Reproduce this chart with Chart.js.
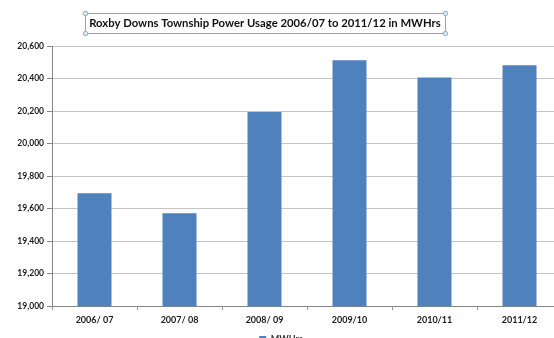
<!DOCTYPE html>
<html>
<head>
<meta charset="utf-8">
<script src="https://cdn.jsdelivr.net/npm/chart.js@4/dist/chart.umd.min.js"></script>
<style>
  html, body { margin: 0; padding: 0; background: #fff; overflow: hidden; }
  #wrap { position: absolute; left: 0; top: 0; width: 566px; height: 354px; }
</style>
</head>
<body>
<div id="wrap"><canvas id="c"></canvas></div>
<script>
// Annual township power usage (MWHrs)
const years = ['2006/ 07', '2007/ 08', '2008/ 09', '2009/10', '2010/11', '2011/12'];
const usage = [19695, 19572, 20194, 20512, 20407, 20481];
const seriesName = 'MWHrs';
const chartTitle = 'Roxby Downs Township Power Usage 2006/07 to 2011/12 in MWHrs';
const yMin = 19000, yMax = 20600, yStep = 200;

const FONT = "Lato, 'Open Sans', 'Liberation Sans', sans-serif";

// Title text inside a framed box with selection handles
const framedTitle = {
  id: 'framedTitle',
  afterDraw(chart) {
    const ctx = chart.ctx;
    const cx = 265, cy = 23;
    ctx.save();
    ctx.font = 'bold 11.3px ' + FONT;
    const w = ctx.measureText(chartTitle).width;
    const x0 = Math.round(cx - w / 2 - 4) + 0.5, x1 = Math.round(cx + w / 2 + 4) + 0.5;
    const y0 = 13.5, y1 = 33.5;
    ctx.strokeStyle = '#a0a0a0';
    ctx.lineWidth = 1;
    ctx.strokeRect(x0, y0, x1 - x0, y1 - y0);
    ctx.fillStyle = '#111';
    ctx.textAlign = 'center';
    ctx.textBaseline = 'middle';
    ctx.fillText(chartTitle, cx, cy);
    const pts = [[x0, y0], [x1, y0], [x0, y1], [x1, y1]];
    ctx.fillStyle = '#dfe8f3';
    ctx.strokeStyle = '#8fa9c8';
    pts.forEach(([x, y]) => {
      ctx.beginPath();
      ctx.arc(x, y, 2.2, 0, Math.PI * 2);
      ctx.fill();
      ctx.stroke();
    });
    ctx.restore();
  }
};

new Chart(document.getElementById('c'), {
  type: 'bar',
  data: {
    labels: years,
    datasets: [{
      label: seriesName,
      data: usage,
      backgroundColor: '#4F81BD',
      borderWidth: 0,
      barPercentage: 1,
      categoryPercentage: 0.4
    }]
  },
  options: {
    responsive: true,
    maintainAspectRatio: false,
    animation: false,
    devicePixelRatio: 1,
    layout: { padding: { left: 0, right: 4, top: 46, bottom: 0 } },
    plugins: {
      title: { display: false },
      legend: {
        display: true,
        position: 'bottom',
        labels: {
          color: '#333',
          font: { family: FONT, size: 9, weight: 'bold' },
          boxWidth: 7,
          boxHeight: 7,
          padding: 6
        }
      },
      tooltip: { enabled: false }
    },
    scales: {
      x: {
        grid: {
          offset: true,
          drawOnChartArea: false,
          drawTicks: true,
          tickLength: 4,
          color: '#9a9a9a'
        },
        border: { color: '#868686' },
        ticks: {
          color: '#1a1a1a',
          font: { family: FONT, size: 9, weight: 'bold' },
          padding: 4,
          maxRotation: 0
        }
      },
      y: {
        min: yMin,
        max: yMax,
        afterFit(scale) { scale.width = 52; },
        grid: {
          color: '#c4c4c4',
          tickLength: 5,
          tickColor: '#868686'
        },
        border: { color: '#868686' },
        ticks: {
          stepSize: yStep,
          color: '#1a1a1a',
          font: { family: FONT, size: 8.5, weight: 'bold' },
          padding: 3,
          callback: v => v.toLocaleString('en-US')
        }
      }
    }
  },
  plugins: [framedTitle]
});
</script>
</body>
</html>
